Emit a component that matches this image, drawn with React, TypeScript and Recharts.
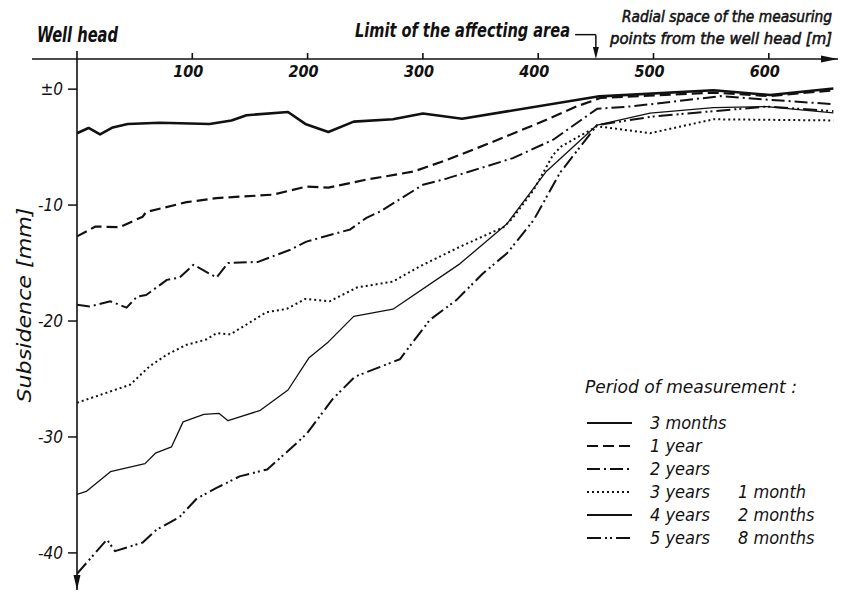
import React from "react";
import { Line, LineChart, ReferenceDot, ReferenceLine, XAxis, YAxis } from "recharts";

const FONT = '"DejaVu Sans Condensed", "DejaVu Sans", sans-serif';
const INK = "#111";

const xTicks = [0, 100, 200, 300, 400, 500, 600];
const yTicks = [0, -10, -20, -30, -40];

// radial distance [m] / subsidence [mm]
const months3Dist = [0, 10, 20, 31, 44, 72, 115, 134, 147, 183, 198, 218, 240, 274, 300, 334, 453, 552, 601, 656];
const months3Sub = [-3.8, -3.35, -3.9, -3.3, -3.0, -2.9, -3.0, -2.7, -2.25, -1.97, -3.0, -3.7, -2.8, -2.6, -2.1, -2.55, -0.62, -0.1, -0.5, 0.05];

const year1Dist = [0, 16, 37, 57, 60, 95, 121, 170, 199, 218, 251, 263, 292, 321, 358, 401, 433, 454, 552, 600, 656];
const year1Sub = [-12.7, -11.85, -11.9, -11.0, -10.6, -9.75, -9.4, -9.1, -8.4, -8.5, -7.8, -7.6, -7.1, -6.1, -4.65, -2.9, -1.5, -0.76, -0.3, -0.6, -0.1];

const years2Dist = [0, 11, 29, 43, 52, 60, 78, 89, 101, 121, 131, 157, 185, 199, 237, 251, 263, 300, 321, 378, 413, 451, 482, 558, 598, 656];
const years2Sub = [-18.6, -18.75, -18.3, -18.85, -17.9, -17.75, -16.45, -16.25, -15.15, -16.25, -15.0, -14.9, -13.85, -13.15, -12.1, -11.1, -10.55, -8.25, -7.7, -5.95, -4.36, -1.7, -1.48, -0.6, -0.9, -1.3];

const years3Dist = [0, 46, 63, 78, 95, 112, 121, 133, 147, 164, 182, 198, 219, 243, 274, 297, 332, 370, 378, 396, 413, 420, 451, 497, 552, 656];
const years3Sub = [-27.05, -25.5, -23.9, -22.9, -22.05, -21.6, -21.05, -21.15, -20.3, -19.25, -18.95, -18.1, -18.3, -17.1, -16.6, -15.3, -13.6, -11.9, -11.1, -8.7, -5.65, -4.94, -3.2, -3.8, -2.6, -2.7];

const years4Dist = [0, 8, 29, 59, 68, 82, 92, 110, 123, 131, 159, 183, 201, 218, 240, 274, 332, 373, 407, 451, 497, 552, 598, 656];
const years4Sub = [-34.95, -34.7, -33.0, -32.3, -31.4, -30.85, -28.7, -28.05, -27.96, -28.6, -27.7, -25.95, -23.2, -21.8, -19.6, -18.98, -15.07, -11.6, -7.1, -3.1, -2.06, -1.6, -1.5, -2.05];

const years5Dist = [0, 26, 33, 57, 69, 89, 104, 121, 141, 165, 182, 199, 222, 241, 280, 306, 329, 352, 373, 396, 419, 451, 500, 552, 598, 656];
const years5Sub = [-41.8, -38.85, -39.85, -39.1, -38.0, -36.9, -35.3, -34.4, -33.4, -32.8, -31.3, -29.75, -26.7, -24.8, -23.3, -19.9, -18.2, -15.9, -14.15, -11.3, -7.2, -3.1, -2.35, -1.9, -1.5, -1.9];

const toRows = (dist: number[], sub: number[]) => dist.map((d, i) => ({ dist: d, sub: sub[i] }));

const series = [
  { key: "m3", label: "3 months", extra: "", rows: toRows(months3Dist, months3Sub), width: 2.6, dash: undefined },
  { key: "y1", label: "1 year", extra: "", rows: toRows(year1Dist, year1Sub), width: 2.2, dash: "11 5" },
  { key: "y2", label: "2 years", extra: "", rows: toRows(years2Dist, years2Sub), width: 2, dash: "13 4 2 4" },
  { key: "y3", label: "3 years", extra: "1 month", rows: toRows(years3Dist, years3Sub), width: 2, dash: "2 3" },
  { key: "y4", label: "4 years", extra: "2 months", rows: toRows(years4Dist, years4Sub), width: 1.3, dash: undefined },
  { key: "y5", label: "5 years", extra: "8 months", rows: toRows(years5Dist, years5Sub), width: 2, dash: "14 4 2 3 2 4" },
];

const textStyle = { fontFamily: FONT, fontStyle: "italic" as const, fill: INK };

const XTick = (props: any) => {
  const { x, y, payload } = props;
  const isZero = payload.value === 0;
  return (
    <g>
      <line x1={x} x2={x} y1={y} y2={y - (isZero ? 8 : 6)} stroke={INK} strokeWidth={1.6} />
      {!isZero && (
        <text x={x - 4} y={y + 18} textAnchor="middle" fontSize={16} fontWeight="bold" {...textStyle}>
          {payload.value}
        </text>
      )}
    </g>
  );
};

// legend block, bottom right of the plot
const LegendBox = ({ left, top }: { left: number; top: number }) => (
  <g transform={`translate(${left},${top})`}>
    <text x={5} y={23} fontSize={18} textLength={212} lengthAdjust="spacingAndGlyphs" {...textStyle}>
      Period of measurement :
    </text>
    {series.map((s, i) => {
      const cy = 53 + i * 23;
      return (
        <g key={s.key}>
          <line x1={7} x2={52} y1={cy} y2={cy} stroke={INK} strokeWidth={2} strokeDasharray={s.dash} />
          <text x={70} y={cy + 6} fontSize={18} {...textStyle}>
            {s.label}
          </text>
          {s.extra && (
            <text x={158} y={cy + 6} fontSize={18} {...textStyle}>
              {s.extra}
            </text>
          )}
        </g>
      );
    })}
  </g>
);

export default function App() {
  return (
    <div style={{ position: "absolute", left: 0, top: 0, width: 842, height: 593, background: "#fff" }}>
      <LineChart width={842} height={593} margin={{ top: 49, right: 4, bottom: 3, left: 37 }}>
        <XAxis
          dataKey="dist"
          type="number"
          orientation="top"
          domain={[0, 660]}
          ticks={xTicks}
          height={10}
          tickSize={0}
          tickMargin={0}
          tickLine={false}
          axisLine={{ stroke: INK, strokeWidth: 1.6 }}
          tick={<XTick />}
          allowDataOverflow
        />
        <YAxis
          type="number"
          domain={[-43.2, 2.6]}
          ticks={yTicks}
          width={40}
          tickSize={9}
          tickMargin={5}
          tickLine={{ stroke: INK, strokeWidth: 1.5 }}
          axisLine={{ stroke: INK, strokeWidth: 1.6 }}
          tickFormatter={(v) => (v === 0 ? "±0" : String(v))}
          tick={{ ...textStyle, fontSize: 17 }}
          allowDataOverflow
        />
        <ReferenceLine
          segment={[{ x: -39, y: 2.6 }, { x: 0, y: 2.6 }]}
          stroke={INK}
          strokeWidth={1.6}
          ifOverflow="visible"
        />
        <ReferenceLine
          segment={[{ x: 432, y: 4.7 }, { x: 450, y: 4.7 }]}
          stroke={INK}
          strokeWidth={1.5}
          ifOverflow="visible"
        />
        <ReferenceLine
          segment={[{ x: 450, y: 4.7 }, { x: 450, y: 3.3 }]}
          stroke={INK}
          strokeWidth={1.5}
          ifOverflow="visible"
        />
        <ReferenceDot
          x={660}
          y={2.6}
          ifOverflow="visible"
          shape={(p: any) => (
            <polygon points={`${p.cx},${p.cy} ${p.cx - 17},${p.cy - 3.5} ${p.cx - 17},${p.cy + 3.5}`} fill={INK} />
          )}
        />
        <ReferenceDot
          x={0}
          y={-43.2}
          ifOverflow="visible"
          shape={(p: any) => (
            <polygon points={`${p.cx},${p.cy} ${p.cx - 3.5},${p.cy - 15} ${p.cx + 3.5},${p.cy - 15}`} fill={INK} />
          )}
        />
        <ReferenceDot
          x={450}
          y={2.6}
          ifOverflow="visible"
          shape={(p: any) => (
            <polygon points={`${p.cx},${p.cy} ${p.cx - 3},${p.cy - 12} ${p.cx + 3},${p.cy - 12}`} fill={INK} />
          )}
        />
        {series.map((s) => (
          <Line
            key={s.key}
            data={s.rows}
            dataKey="sub"
            name={s.label}
            type="linear"
            stroke={INK}
            strokeWidth={s.width}
            strokeDasharray={s.dash}
            strokeLinejoin="round"
            dot={false}
            activeDot={false}
            isAnimationActive={false}
          />
        ))}
      </LineChart>
      <svg
        width={842}
        height={593}
        style={{ position: "absolute", left: 0, top: 0, pointerEvents: "none" }}
      >
        <text x={37} y={42} fontSize={21} fontWeight="bold" textLength={81} lengthAdjust="spacingAndGlyphs" {...textStyle}>
          Well head
        </text>
        <text x={355} y={37} fontSize={19} fontWeight="bold" textLength={215} lengthAdjust="spacingAndGlyphs" {...textStyle}>
          Limit of the affecting area
        </text>
        <text x={622} y={22} fontSize={15} stroke={INK} strokeWidth={0.5} textLength={210} lengthAdjust="spacingAndGlyphs" {...textStyle}>
          Radial space of the measuring
        </text>
        <text x={610} y={44} fontSize={15} stroke={INK} strokeWidth={0.5} textLength={222} lengthAdjust="spacingAndGlyphs" {...textStyle}>
          points from the well head [m]
        </text>
        <text
          x={0}
          y={0}
          transform="translate(31,305) rotate(-90)"
          textAnchor="middle"
          fontSize={20}
          textLength={195}
          lengthAdjust="spacingAndGlyphs"
          {...textStyle}
        >
          Subsidence [mm]
        </text>
        <LegendBox left={580} top={370} />
      </svg>
    </div>
  );
}
